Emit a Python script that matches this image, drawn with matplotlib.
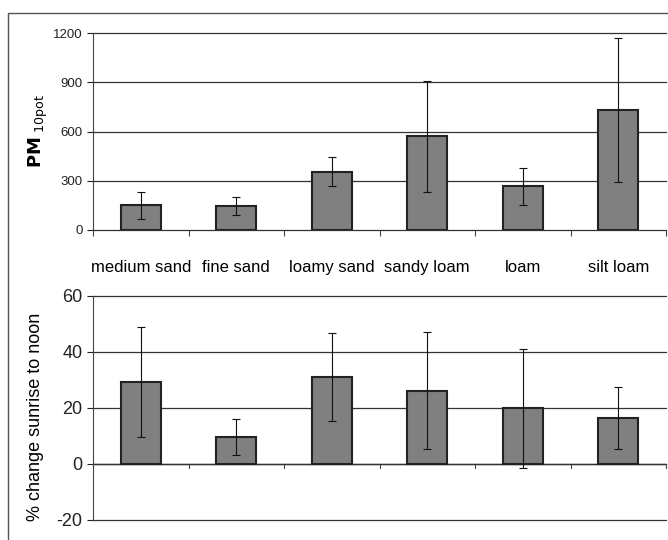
import matplotlib
matplotlib.use("Agg")
import matplotlib.pyplot as plt
from matplotlib.patches import Rectangle
import numpy as np

plt.rcParams['font.family'] = ['Liberation Sans', 'DejaVu Sans']
plt.rcParams['axes.unicode_minus'] = False

categories = ["medium sand", "fine sand", "loamy sand", "sandy loam", "loam", "silt loam"]
pm10_mean = [150, 145, 355, 570, 267, 730]
pm10_err = [84, 54, 88, 340, 113, 440]
pct_mean = [29.2, 9.6, 31.1, 26.2, 19.9, 16.4]
pct_err = [19.7, 6.4, 15.6, 21.0, 21.3, 11.2]
top_ticks = [0, 300, 600, 900, 1200]
bot_ticks = [-20, 0, 20, 40, 60]

W, H = 668, 540
fig = plt.figure(figsize=(W/100, H/100), dpi=100)

# outer frame
fig.patches.append(Rectangle((8/W, -0.01), 1.0, 1 - 13/H + 0.01, transform=fig.transFigure,
                             fill=False, edgecolor='#555555', linewidth=1.0))

def ax_rect(l, t, r, b):
    return [l/W, 1 - b/H, (r - l)/W, (b - t)/H]

x = np.arange(len(categories))

def style(ax, ticks, fs):
    ax.set_xlim(-0.5, len(categories) - 0.5)
    ax.set_yticks(ticks)
    ax.set_ylim(ticks[0], ticks[-1])
    for s in ['top', 'right', 'bottom']:
        ax.spines[s].set_visible(False)
    ax.spines['left'].set_color('#444444')
    ax.set_axisbelow(True)
    for t in ticks:
        ax.axhline(t, color='#333333', linewidth=0.9, zorder=0, clip_on=False)
    ax.tick_params(axis='y', direction='out', length=4, labelsize=fs, colors='#222222')
    ax.set_xticks(np.arange(len(categories) + 1) - 0.5)
    ax.set_xticklabels([])
    ax.tick_params(axis='x', direction='out', length=4, color='#444444')

# top panel
ax1 = fig.add_axes(ax_rect(93, 33, 666, 230))
ax1.bar(x, pm10_mean, width=0.42, color='#808080', edgecolor='#222222', linewidth=1.5, zorder=2)
ax1.errorbar(x, pm10_mean, yerr=pm10_err, fmt='none', ecolor='#111111', elinewidth=0.8,
             capsize=3, capthick=0.8, zorder=3)
style(ax1, top_ticks, 9.5)
ax1.set_ylabel(r"$\mathbf{PM}$" + r"$_{\ \mathrm{10pot}}$", fontsize=13)
ax1.yaxis.set_label_coords(-43/573, 0.5)
for xi, c in zip(x, categories):
    ax1.text(xi, -0.19, c, transform=ax1.get_xaxis_transform(), ha='center', va='center',
             fontsize=12)

# bottom panel
ax2 = fig.add_axes(ax_rect(93, 296, 666, 520))
ax2.bar(x, pct_mean, width=0.42, color='#808080', edgecolor='#222222', linewidth=1.5, zorder=2)
ax2.errorbar(x, pct_mean, yerr=pct_err, fmt='none', ecolor='#111111', elinewidth=0.8,
             capsize=3, capthick=0.8, zorder=3)
style(ax2, bot_ticks, 13)
ax2.spines['bottom'].set_visible(False)
ax2.xaxis.set_ticks_position('none')
for xb in np.arange(len(categories) + 1) - 0.5:
    ax2.plot([xb, xb], [0, -1.5], color='#444444', linewidth=0.8, zorder=1, clip_on=False)
ax2.axhline(0, color='#333333', linewidth=1.0, zorder=1)
ax2.set_ylabel("% change sunrise to noon", fontsize=13)
ax2.yaxis.set_label_coords(-49/573, 0.46)

fig.savefig("out.png", dpi=100)
